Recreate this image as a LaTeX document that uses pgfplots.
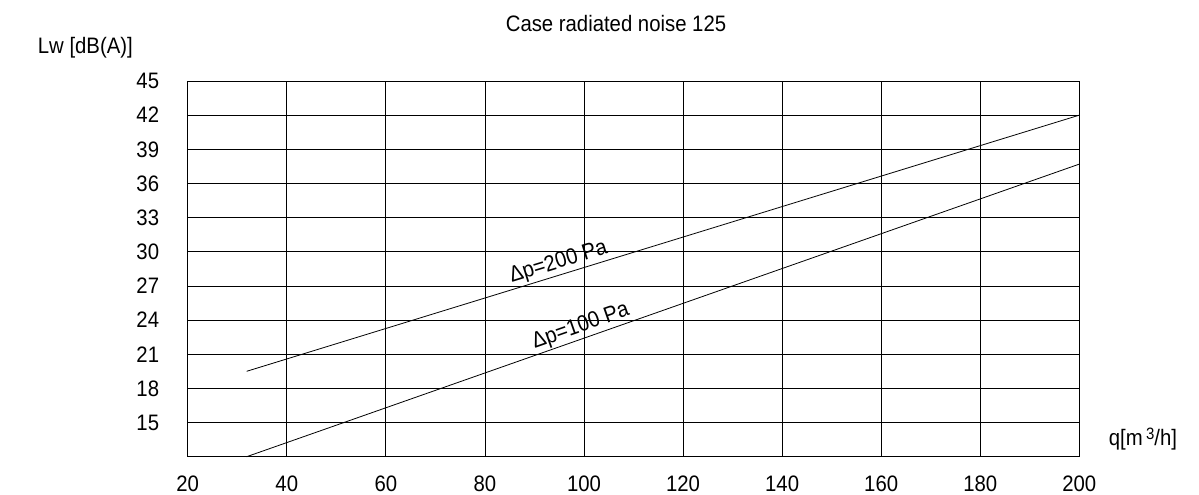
\documentclass[border=0pt]{standalone}
\usepackage{fontspec}
\setmainfont{Liberation Sans}
\usepackage{graphicx}
\usepackage{pgfplots}
\pgfplotsset{compat=1.18}
\newcommand\T[1]{\scalebox{1}[1.1]{#1}}

\begin{document}
\fontsize{20.4}{24}\selectfont
\begin{tikzpicture}
\useasboundingbox (-187.7bp,-38.3bp) rectangle (1011.3bp,456.7bp);
\begin{axis}[
  at={(0,0)}, anchor=south west,
  scale only axis, width=891.6bp, height=375.7bp,
  xmin=20, xmax=200, ymin=12, ymax=45,
  xtick={20,40,...,200}, ytick={15,18,...,45},
  grid=major, major grid style={black, line width=0.8bp},
  axis line style={black, line width=0.8bp},
  tick style={draw=none}, major tick length=0pt,
  /pgf/number format/assume math mode=true,
  xticklabel={\T{\pgfmathprintnumber{\tick}}},
  yticklabel={\T{\pgfmathprintnumber{\tick}}},
  xticklabel style={anchor=base, yshift=-35bp, inner sep=0pt},
  yticklabel style={anchor=east, xshift=-28.4bp, inner sep=0pt},
  tick label style={font=\fontsize{20.4}{24}\selectfont},
  clip=false,
]
\addplot[black, line width=0.8bp] coordinates {(31.9,19.5) (200,42)};
\addplot[black, line width=0.8bp] coordinates {(31.9,12) (200,37.7)};
\node[anchor=south, rotate=17.1, inner sep=2bp] at (axis cs:95.6,28.0) {\T{Δp=200 Pa}};
\node[anchor=south, rotate=19.35, inner sep=2bp] at (axis cs:100.2,22.4) {\T{Δp=100 Pa}};
\end{axis}
\node[anchor=base, inner sep=0pt] at (428.3bp,425bp) {\T{Case radiated noise 125}};
\node[anchor=base west, inner sep=0pt] at (-150bp,403.4bp) {\T{Lw [dB(A)]}};
\node[anchor=base west, inner sep=0pt] at (921bp,11.7bp) {\T{q[m\,\raisebox{0.45ex}{\fontsize{15}{18}\selectfont 3}/h]}};
\end{tikzpicture}
\end{document}
